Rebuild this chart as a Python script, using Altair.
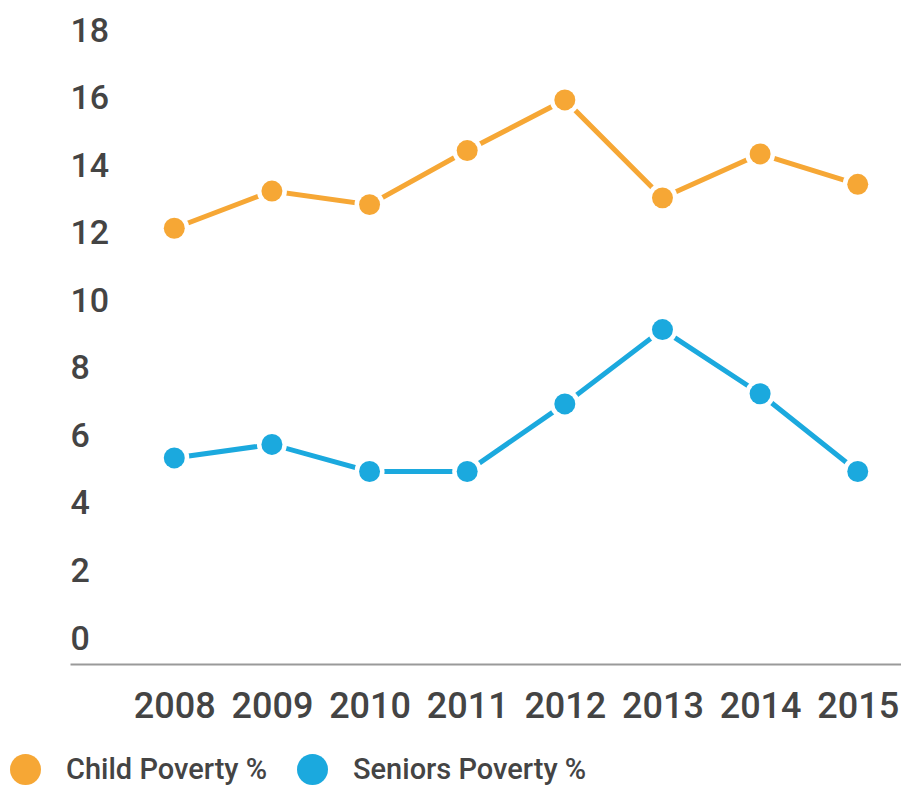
import altair as alt
import pandas as pd

years = [2008, 2009, 2010, 2011, 2012, 2013, 2014, 2015]
child_poverty = [12.9, 14.0, 13.6, 15.2, 16.7, 13.8, 15.1, 14.2]
seniors_poverty = [6.1, 6.5, 5.7, 5.7, 7.7, 9.9, 8.0, 5.7]
series_names = ["Child Poverty %", "Seniors Poverty %"]
series_colors = ["#F6A735", "#1BA9DE"]
y_ticks = [0, 2, 4, 6, 8, 10, 12, 14, 16, 18]

rows = []
for name, vals in zip(series_names, [child_poverty, seniors_poverty]):
    for yr, v in zip(years, vals):
        rows.append({"Year": yr, "Value": v, "Series": name})
df = pd.DataFrame(rows)

FONT = "Roboto"
LABEL = "#444444"

x_enc = alt.X(
    "Year:Q",
    scale=alt.Scale(domain=[2006.932, 2015.443], nice=False, zero=False),
    axis=alt.Axis(
        values=years, format="d", title=None, ticks=False, grid=False,
        domain=True, domainColor="#9a9a9a", domainWidth=2,
        labelFont=FONT, labelFontSize=36, labelFontWeight=500, labelColor=LABEL,
        labelPadding=25, labelFlush=False, labelOverlap=False,
    ),
)
y_enc = alt.Y(
    "Value:Q",
    scale=alt.Scale(domain=[0, 18], nice=False),
    axis=alt.Axis(
        values=y_ticks, title=None, ticks=False, grid=False, domain=False,
        labelFont=FONT, labelFontSize=34, labelFontWeight=500, labelColor=LABEL,
        labelAlign="left", labelBaseline="alphabetic", labelPadding=0,
        labelOffset=-15,
    ),
)
color_scale = alt.Scale(domain=series_names, range=series_colors)

base = alt.Chart(df)

lines = base.mark_line(strokeWidth=5).encode(
    x=x_enc, y=y_enc,
    color=alt.Color("Series:N", scale=color_scale),
    detail="Series:N",
)
halo = base.mark_point(filled=True, size=900, color="white", opacity=1).encode(
    x=x_enc, y=y_enc, detail="Series:N",
)
dots = base.mark_point(filled=True, size=440, opacity=1).encode(
    x=x_enc, y=y_enc,
    color=alt.Color("Series:N", scale=color_scale),
)

chart = alt.layer(lines, halo, dots).properties(
    width=831, height=608,
    autosize=alt.AutoSizeParams(type="none"),
    padding={"left": 70, "top": 56, "right": 0, "bottom": 121},
    background="white",
).configure_view(strokeWidth=0).configure_legend(
    title=None, orient="none", direction="horizontal",
    legendX=-60, legendY=698, padding=0,
    symbolType="circle", symbolSize=960, symbolStrokeWidth=0,
    symbolOpacity=1,
    labelFont=FONT, labelFontSize=29, labelFontWeight=500, labelLimit=500,
    labelColor=LABEL, labelOffset=25, columnPadding=29,
)

chart.save("out.html", embed_options={"renderer": "svg", "actions": False})
